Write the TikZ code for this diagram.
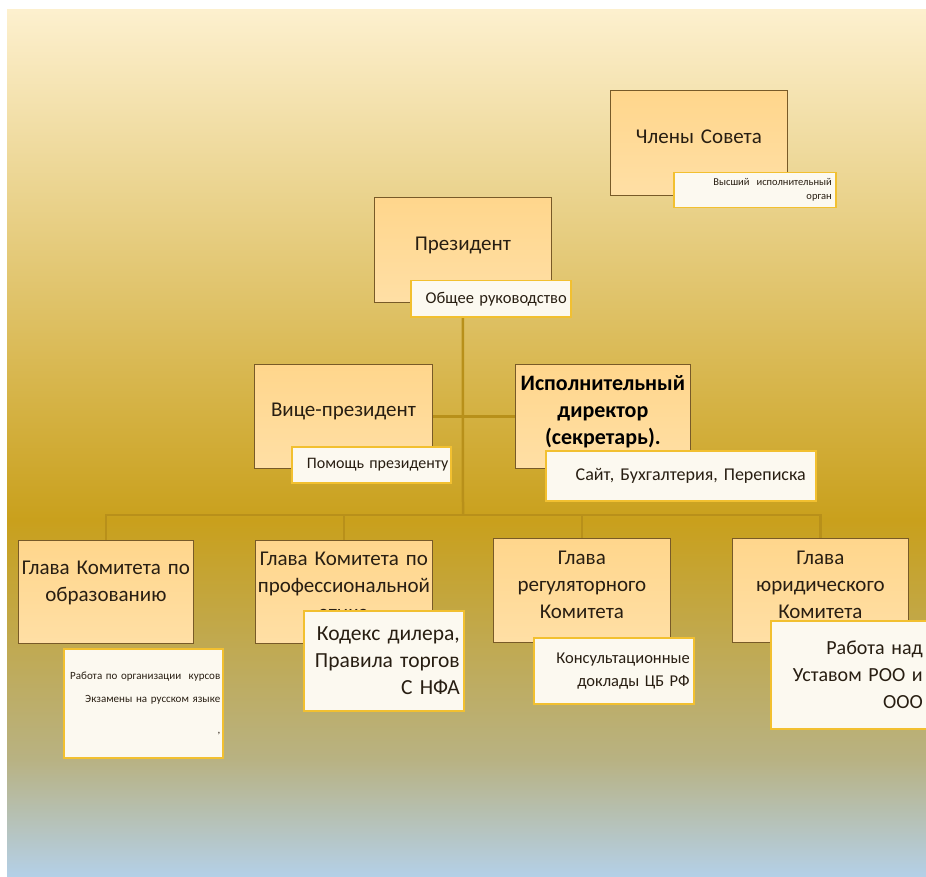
\documentclass[tikz,border=0pt]{standalone}
\usepackage{fontspec}
\setmainfont{Carlito}

\definecolor{bgtop}{RGB}{253,240,206}
\definecolor{bggold}{RGB}{201,160,28}
\definecolor{bgolive}{RGB}{184,178,131}
\definecolor{bgblue}{RGB}{180,208,232}
\definecolor{postfill}{RGB}{255,214,140}
\definecolor{postfilllow}{RGB}{255,223,165}
\definecolor{postline}{RGB}{120,90,40}
\definecolor{notefill}{RGB}{252,249,240}
\definecolor{noteline}{RGB}{242,192,48}
\definecolor{linkcol}{RGB}{184,144,26}
\definecolor{inkcol}{RGB}{40,30,18}

\tikzstyle{postbox}=[draw=postline,line width=0.8pt,top color=postfill,bottom color=postfilllow,anchor=north west,inner sep=0pt,align=center,text=inkcol,text depth=13pt,font=\fontsize{21}{27}\selectfont]
\tikzstyle{notebox}=[draw=noteline,line width=1.5pt,fill=notefill,anchor=north west,inner sep=0pt,align=right,text=inkcol]
\tikzstyle{linkline}=[draw=linkcol,line width=2.5pt]

\begin{document}
\begin{tikzpicture}[x=1pt,y=-1pt]

\useasboundingbox (0,0) rectangle (926,877);
\fill[white] (0,0) rectangle (926,877);
\shade[top color=bgtop,bottom color=bggold] (7,10) rectangle (926,521);
\shade[top color=bggold,bottom color=bgolive] (7,520) rectangle (926,761);
\shade[top color=bgolive,bottom color=bgblue] (7,760) rectangle (926,877);

% boxes
\node[postbox,minimum width=177pt,minimum height=105pt,text width=170pt] (SOVET) at (610,90) {Члены Совета};
\node[postbox,minimum width=177pt,minimum height=105pt,text width=170pt] (PRES) at (374,197) {Президент};
\node[postbox,minimum width=178pt,minimum height=104pt,text width=170pt] (VICE) at (254,364) {Вице-президент};
\node[postbox,minimum width=175pt,minimum height=104pt,text width=175pt,text depth=67.5pt,font=\fontsize{22}{27}\selectfont\bfseries,text=black] (EXEC) at (515,364) {Исполнительный\\директор\\(секретарь).};

\node[postbox,minimum width=175pt,minimum height=103pt,text width=172pt,text depth=48.5pt] (K1) at (18,540) {Глава Комитета по\\образованию};
\node[postbox,minimum width=177pt,minimum height=103pt,text width=177pt,text depth=66pt] (K2) at (255,540) {Глава Комитета по\\профессиональной\\этике};
\node[postbox,minimum width=177pt,minimum height=104pt,text width=170pt,text depth=66pt] (K3) at (493,538) {Глава\\регуляторного\\Комитета};
\node[postbox,minimum width=176pt,minimum height=104pt,text width=170pt,text depth=66pt] (K4) at (732,538) {Глава\\юридического\\Комитета};

% links
\coordinate (BUS) at (463,515);
\draw[linkline] (PRES.south) -- (BUS);
\draw[linkline] (VICE.east) -- (EXEC.west);
\draw[linkline] (K1.north) |- (BUS) -| (K4.north);
\draw[linkline] (K2.north) -- (K2.north |- BUS);
\draw[linkline] (K3.north) -- (K3.north |- BUS);

% notes
\node[notebox,minimum width=162pt,minimum height=35pt,text width=154pt,font=\fontsize{10.5}{14}\selectfont] (SOVETNOTE) at (673,172) {Высший\ \ исполнительный\\орган};
\node[notebox,minimum width=160pt,minimum height=36pt,text width=152pt,font=\fontsize{16.5}{20}\selectfont] (PRESNOTE) at (410,280) {Общее руководство};
\node[notebox,minimum width=159pt,minimum height=36pt,text width=154pt,font=\fontsize{16}{20}\selectfont] (VICENOTE) at (291,446) {Помощь президенту};
\node[notebox,minimum width=270pt,minimum height=50pt,text width=250pt,font=\fontsize{18}{22}\selectfont] (EXECNOTE) at (545,450) {Сайт, Бухгалтерия, Переписка};

\node[notebox,minimum width=159pt,minimum height=109pt,text width=154pt,font=\fontsize{11}{23}\selectfont] (K1NOTE) at (63,648) {Работа по организации\ \ курсов\\Экзамены\ на\ русском\ языке\\[8pt],};
\node[notebox,minimum width=160pt,minimum height=100pt,text width=152pt,font=\fontsize{21.5}{27}\selectfont] (K2NOTE) at (303,610) {Кодекс дилера,\\Правила торгов\\С НФА};
\node[notebox,minimum width=160pt,minimum height=66pt,text width=152pt,font=\fontsize{16.5}{23}\selectfont] (K3NOTE) at (533,637) {Консультационные\\доклады ЦБ РФ};
\node[notebox,minimum width=162pt,minimum height=108pt,text width=142pt,font=\fontsize{20}{27}\selectfont] (K4NOTE) at (770,620) {Работа над\\Уставом РОО и\\ООО};

\end{tikzpicture}
\end{document}
